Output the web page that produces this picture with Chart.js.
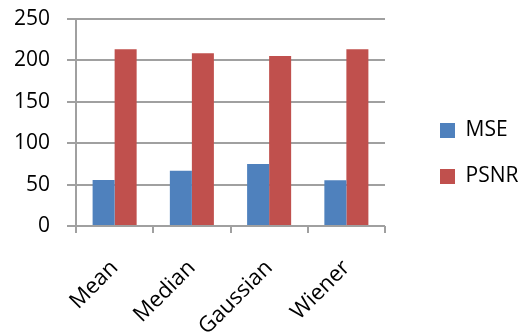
<!DOCTYPE html>
<html>
<head>
<meta charset="utf-8">
<script src="https://cdn.jsdelivr.net/npm/chart.js@4"></script>
<style>
  html, body { margin: 0; padding: 0; background: #fff; }
  #wrap { width: 520px; height: 336px; }
</style>
</head>
<body>
<div id="wrap"><canvas id="chart" width="520" height="336"></canvas></div>
<script>
// data
const categories = ['Mean', 'Median', 'Gaussian', 'Wiener'];
const mseValues = [55.6, 66.8, 74.9, 55.2];
const psnrValues = [213.4, 208.5, 205.3, 213.4];
const yTicks = [0, 50, 100, 150, 200, 250];

const GRID = '#a0a0a0';
const FONT = "'Open Sans', 'DejaVu Sans', sans-serif";

new Chart(document.getElementById('chart'), {
  type: 'bar',
  data: {
    labels: categories,
    datasets: [
      { label: 'MSE', data: mseValues, backgroundColor: '#4f81bd', categoryPercentage: 0.57, barPercentage: 1 },
      { label: 'PSNR', data: psnrValues, backgroundColor: '#c0504d', categoryPercentage: 0.57, barPercentage: 1 }
    ]
  },
  options: {
    responsive: false, animation: false,
    layout: { padding: { top: 19, right: 0, bottom: 0, left: 0 } },
    plugins: {
      tooltip: { enabled: false },
      legend: {
        position: 'right', align: 'start', maxWidth: 105,
        // empty title only pushes the two items down to mid height
        title: { display: true, text: ' ', font: { size: 20 }, padding: { top: 0, bottom: 52 } },
        labels: { color: '#000', boxWidth: 15, boxHeight: 15, padding: 25, font: { family: FONT, size: 21 } }
      }
    },
    scales: {
      x: {
        grid: { display: true, drawOnChartArea: false, drawTicks: true, tickLength: 7, color: GRID, lineWidth: 2, offset: true },
        border: { display: false },
        ticks: { color: '#000', maxRotation: 45, minRotation: 45, padding: 22, font: { family: FONT, size: 22 } },
        afterFit: s => { s.height = 110; }
      },
      y: {
        min: 0, max: 250,
        afterBuildTicks: s => { s.ticks = yTicks.map(v => ({ value: v })); },
        grid: { color: GRID, lineWidth: 2, tickLength: 9 },
        border: { display: true, color: GRID, width: 2 },
        ticks: { color: '#000', padding: 17, font: { family: FONT, size: 21 } },
        afterFit: s => { s.width = 76; s.paddingTop = 0; s.paddingBottom = 0; }
      },
      gap: {
        position: 'right', display: false,
        afterFit: s => { s.width = 30; }
      }
    }
  }
});
</script>
</body>
</html>
